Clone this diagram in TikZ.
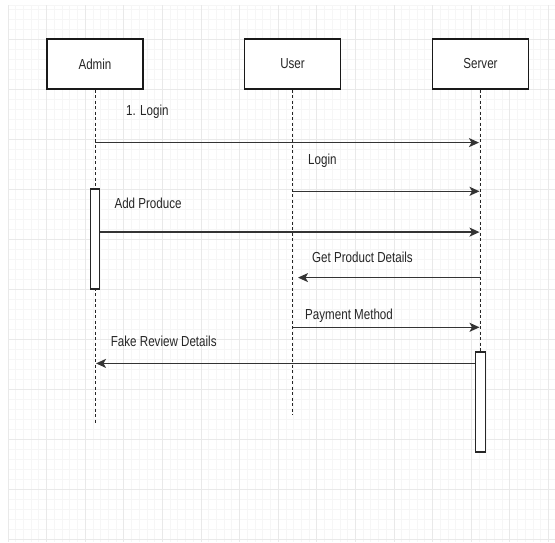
\documentclass[tikz,border=0pt]{standalone}
\usepackage{fontspec}
\setmainfont{Liberation Sans}[FakeStretch=0.8]
\usetikzlibrary{calc,arrows.meta}

\definecolor{gridminor}{HTML}{F6F6F6}
\definecolor{gridmajor}{HTML}{E9E9E9}

\tikzset{
	actor/.style={draw=black!90,line width=1.2pt,fill=white,minimum width=96pt,minimum height=50pt,inner sep=0pt,font=\fontsize{14.5}{17}\selectfont,text=black!85},
	actbox/.style={draw=black!85,line width=1.2pt,fill=white,minimum width=9.5pt,minimum height=100pt,inner sep=0pt},
	lifeline/.style={draw=black!85,line width=1pt,dash pattern=on 3pt off 2.5pt},
	msg/.style={draw=black!80,line width=1.4pt,-{Stealth[length=10pt,width=9pt,inset=2.5pt]}},
	lbl/.style={anchor=base west,inner sep=0pt,font=\fontsize{14.5}{17}\selectfont,text=black!85},
}

\begin{document}
\begin{tikzpicture}[x=1pt,y=-1pt]
	\useasboundingbox (0,0) rectangle (555,542);
	\fill[white] (0,0) rectangle (555,542);
	% grid
	\foreach \i in {0,...,71}
		\draw[gridminor,line width=0.8pt] ({8+7.72*\i},5) -- ({8+7.72*\i},542);
	\foreach \j in {0,...,53}
		\draw[gridminor,line width=0.8pt] (8,{9+10*\j}) -- (555,{9+10*\j});
	\draw[gridminor,line width=0.8pt] (8,5) -- (555,5);
	\foreach \i in {0,...,14}
		\draw[gridmajor,line width=0.9pt] ({8+38.6*\i},5) -- ({8+38.6*\i},542);
	\foreach \j in {0,...,10}
		\draw[gridmajor,line width=0.9pt] (8,{39+50*\j}) -- (555,{39+50*\j});

	% lifelines
	\node[actor] (admin) at (95,64) {Admin};
	\node[actor] (user) at (292.5,64) {User};
	\node[actor] (server) at (480.5,64) {Server};
	\coordinate (adminend) at ($(admin.south) + (0,333)$);
	\coordinate (userend) at ($(user.south) + (0,325)$);
	\draw[lifeline] (admin) -- (adminend);
	\draw[lifeline] (user) -- (userend);
	\node[actbox] (adminact) at (95,239) {};
	\node[actbox] (serveract) at (480.5,402) {};
	\draw[lifeline] (server) -- (serveract);

	% messages
	\coordinate (m1) at ($(admin.south) + (0,53)$);
	\draw[msg] (m1) -- ($(m1 -| server) + (-1.5,0)$);
	\node[lbl] (l1) at ($(m1) + (31,-27)$) {1. Login};
	\coordinate (m2) at ($(user.south) + (0,101.7)$);
	\draw[msg] (m2) -- ($(m2 -| server) + (-1,0)$);
	\node[lbl] (l2) at ($(m2) + (15.5,-26.4)$) {Login};
	\coordinate (m3) at ($(adminact.north east) + (0,43.7)$);
	\draw[msg] (m3) -- ($(m3 -| server) + (-1,0)$);
	\node[lbl] (l3) at ($(m3) + (14,-23.4)$) {Add Produce};
	\coordinate (m4) at ($(server.south) + (0,188)$);
	\draw[msg] (m4) -- ($(m4 -| user) + (5.5,0)$);
	\node[lbl] (l4) at ($(m4 -| user) + (19.5,-15.3)$) {Get Product Details};
	\coordinate (m5) at ($(user.south) + (0,237.7)$);
	\draw[msg] (m5) -- ($(m5 -| server) + (-1,0)$);
	\node[lbl] (l5) at ($(m5) + (12.5,-7.7)$) {Payment Method};
	\coordinate (m6) at ($(serveract.north west) + (0,12)$);
	\draw[msg] (m6) -- ($(m6 -| admin) + (1,0)$);
	\node[lbl] (l6) at ($(m6 -| admin) + (15.7,-17.3)$) {Fake Review Details};
\end{tikzpicture}
\end{document}
